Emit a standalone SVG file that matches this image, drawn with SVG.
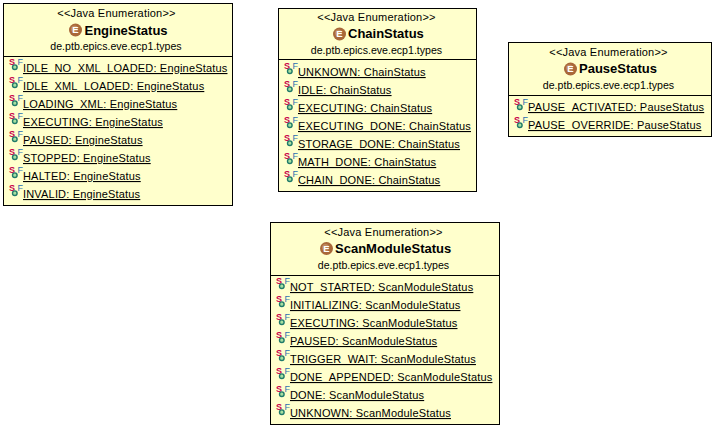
<svg xmlns="http://www.w3.org/2000/svg" width="715" height="428" viewBox="0 0 715 428">
<style>
.box{fill:#ffffcc;stroke:#000;stroke-width:1}
.div{stroke:#000;stroke-width:1}
text{font-family:"Liberation Sans",Arial,sans-serif;font-size:11px;fill:#000}
.c{text-anchor:middle}
.st{letter-spacing:.2px}
.p{font-size:10.6px}
.t{font-size:13px;font-weight:bold}
.u{text-decoration:underline;text-decoration-skip-ink:none;letter-spacing:.18px}
.s{font-size:9px;fill:#c8004b;font-weight:bold}
.f{font-size:9px;fill:#2a6fb0}
</style>
<defs>
<g id="icon"><text class="s" x="0" y="6.200">S</text><text class="f" x="8.500" y="6.200">F</text><circle cx="5.800" cy="8.200" r="2.300" fill="#a8e0a0" stroke="#1f7a6a" stroke-width="1.400"/></g>
<g id="enum"><circle cx="0" cy="0" r="6.500" fill="#a9683a"/><circle cx="-1" cy="-1" r="3.500" fill="#c08a60"/><text x="0" y="3.300" class="c" style="font-size:9.500px;font-weight:bold;fill:#fff">E</text></g>
</defs>
<rect width="715" height="428" fill="#fff"/>
<g id="EngineStatus">
<rect class="box" x="3.500" y="3.500" width="229" height="202"/>
<text class="c st" x="116.500" y="17">&lt;&lt;Java Enumeration&gt;&gt;</text>
<use href="#enum" x="75.500" y="30"/>
<text class="t" x="84.500" y="34.500">EngineStatus</text>
<text class="c p" x="116" y="50">de.ptb.epics.eve.ecp1.types</text>
<line class="div" x1="3.500" y1="56.500" x2="232.500" y2="56.500"/>
<use href="#icon" x="9" y="59"/><text class="u" x="23" y="72">IDLE_NO_XML_LOADED: EngineStatus</text>
<use href="#icon" x="9" y="77"/><text class="u" x="23" y="90">IDLE_XML_LOADED: EngineStatus</text>
<use href="#icon" x="9" y="95"/><text class="u" x="23" y="108">LOADING_XML: EngineStatus</text>
<use href="#icon" x="9" y="113"/><text class="u" x="23" y="126">EXECUTING: EngineStatus</text>
<use href="#icon" x="9" y="131"/><text class="u" x="23" y="144">PAUSED: EngineStatus</text>
<use href="#icon" x="9" y="149"/><text class="u" x="23" y="162">STOPPED: EngineStatus</text>
<use href="#icon" x="9" y="167"/><text class="u" x="23" y="180">HALTED: EngineStatus</text>
<use href="#icon" x="9" y="185"/><text class="u" x="23" y="198">INVALID: EngineStatus</text>
</g>
<g id="ChainStatus">
<rect class="box" x="278.500" y="8.500" width="198" height="183"/>
<text class="c st" x="376.500" y="21">&lt;&lt;Java Enumeration&gt;&gt;</text>
<use href="#enum" x="339.500" y="34"/>
<text class="t" x="348" y="38">ChainStatus</text>
<text class="c p" x="376.500" y="54">de.ptb.epics.eve.ecp1.types</text>
<line class="div" x1="278.500" y1="59.500" x2="476.500" y2="59.500"/>
<use href="#icon" x="284" y="63"/><text class="u" x="298" y="76">UNKNOWN: ChainStatus</text>
<use href="#icon" x="284" y="81"/><text class="u" x="298" y="94">IDLE: ChainStatus</text>
<use href="#icon" x="284" y="99"/><text class="u" x="298" y="112">EXECUTING: ChainStatus</text>
<use href="#icon" x="284" y="117"/><text class="u" x="298" y="130">EXECUTING_DONE: ChainStatus</text>
<use href="#icon" x="284" y="135"/><text class="u" x="298" y="148">STORAGE_DONE: ChainStatus</text>
<use href="#icon" x="284" y="153"/><text class="u" x="298" y="166">MATH_DONE: ChainStatus</text>
<use href="#icon" x="284" y="171"/><text class="u" x="298" y="184">CHAIN_DONE: ChainStatus</text>
</g>
<g id="PauseStatus">
<rect class="box" x="508.500" y="42.500" width="203" height="94"/>
<text class="c st" x="608.500" y="56">&lt;&lt;Java Enumeration&gt;&gt;</text>
<use href="#enum" x="570.500" y="69"/>
<text class="t" x="579" y="73">PauseStatus</text>
<text class="c p" x="608.500" y="89">de.ptb.epics.eve.ecp1.types</text>
<line class="div" x1="508.500" y1="95.500" x2="711.500" y2="95.500"/>
<use href="#icon" x="514" y="99"/><text class="u" x="528" y="111">PAUSE_ACTIVATED: PauseStatus</text>
<use href="#icon" x="514" y="117"/><text class="u" x="528" y="129">PAUSE_OVERRIDE: PauseStatus</text>
</g>
<g id="ScanModuleStatus">
<rect class="box" x="270.500" y="222.500" width="229" height="202"/>
<text class="c st" x="383.500" y="236">&lt;&lt;Java Enumeration&gt;&gt;</text>
<use href="#enum" x="326.500" y="248.500"/>
<text class="t" x="335" y="253">ScanModuleStatus</text>
<text class="c p" x="383.500" y="269">de.ptb.epics.eve.ecp1.types</text>
<line class="div" x1="270.500" y1="275.500" x2="499.500" y2="275.500"/>
<use href="#icon" x="276" y="278"/><text class="u" x="290" y="291">NOT_STARTED: ScanModuleStatus</text>
<use href="#icon" x="276" y="296"/><text class="u" x="290" y="309">INITIALIZING: ScanModuleStatus</text>
<use href="#icon" x="276" y="314"/><text class="u" x="290" y="327">EXECUTING: ScanModuleStatus</text>
<use href="#icon" x="276" y="332"/><text class="u" x="290" y="345">PAUSED: ScanModuleStatus</text>
<use href="#icon" x="276" y="350"/><text class="u" x="290" y="363">TRIGGER_WAIT: ScanModuleStatus</text>
<use href="#icon" x="276" y="368"/><text class="u" x="290" y="381">DONE_APPENDED: ScanModuleStatus</text>
<use href="#icon" x="276" y="386"/><text class="u" x="290" y="399">DONE: ScanModuleStatus</text>
<use href="#icon" x="276" y="404"/><text class="u" x="290" y="417">UNKNOWN: ScanModuleStatus</text>
</g>
<g id="connectors"/>
</svg>
